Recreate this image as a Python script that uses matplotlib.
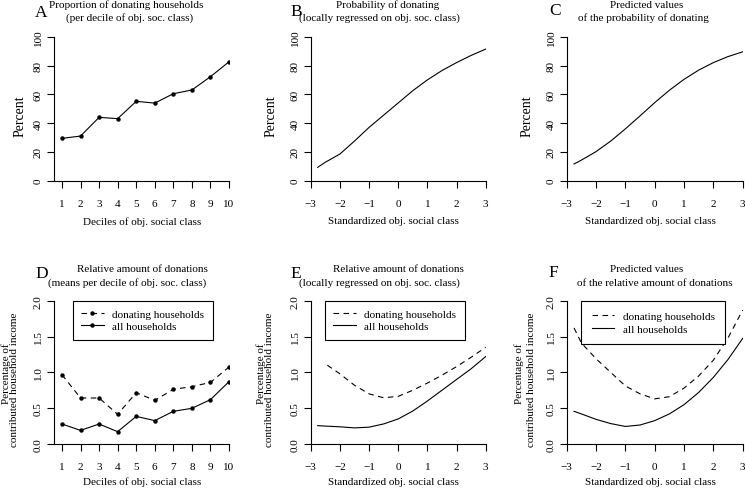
import matplotlib
matplotlib.use("Agg")
import matplotlib.pyplot as plt

plt.rcParams['font.family'] = ['Liberation Serif', 'DejaVu Serif']
plt.rcParams['axes.linewidth'] = 0.8

W, H = 745, 489

# data
deciles = [1, 2, 3, 4, 5, 6, 7, 8, 9, 10]
prop_donating = [29.4, 31.0, 44.0, 43.1, 55.1, 53.9, 60.4, 63.0, 72.2, 82.6]

x_prob_loess = [-2.76, -2.5, -2, -1.5, -1, -0.5, 0, 0.5, 1, 1.5, 2, 2.5, 3]
prob_loess = [9.3, 12.8, 18.5, 27.5, 37, 45.5, 54, 62.5, 70, 76.5, 82, 87, 91.4]

x_prob_pred = [-2.75, -2.5, -2, -1.5, -1, -0.5, 0, 0.5, 1, 1.5, 2, 2.5, 3]
prob_pred = [11.6, 14.3, 20.2, 27.5, 36, 45, 54.2, 62.8, 70.4, 76.8, 82, 86.2, 89.5]

amount_donating = [0.967, 0.642, 0.642, 0.414, 0.716, 0.609, 0.763, 0.80, 0.86, 1.074]
amount_all = [0.279, 0.19, 0.279, 0.172, 0.386, 0.326, 0.456, 0.498, 0.619, 0.87]

x_loess_don = [-2.43, -2, -1.5, -1, -0.5, 0, 0.5, 1, 1.5, 2, 2.5, 3]
loess_don = [1.10, 0.98, 0.82, 0.70, 0.645, 0.665, 0.75, 0.85, 0.96, 1.08, 1.21, 1.35]
x_loess_all = [-2.76, -2.5, -2, -1.5, -1, -0.5, 0, 0.5, 1, 1.5, 2, 2.5, 3]
loess_all = [0.256, 0.25, 0.24, 0.225, 0.235, 0.28, 0.35, 0.46, 0.6, 0.75, 0.9, 1.05, 1.22]

x_pred = [-2.75, -2.5, -2, -1.5, -1, -0.5, 0, 0.5, 1, 1.5, 2, 2.5, 3]
pred_don = [1.62, 1.41, 1.19, 1.0, 0.81, 0.70, 0.63, 0.66, 0.78, 0.95, 1.17, 1.48, 1.87]
pred_all = [0.456, 0.42, 0.344, 0.285, 0.245, 0.265, 0.326, 0.42, 0.549, 0.72, 0.93, 1.18, 1.474]

std_ticks = [-3, -2, -1, 0, 1, 2, 3]
std_ticklabels = ['\u22123', '\u22122', '\u22121', '0', '1', '2', '3']

FS = 8
LW = 0.8
DASH = (0, (5, 4))

fig = plt.figure(figsize=(W / 100, H / 100), dpi=100)


def add_ax(x0, x1, ytop, ybot):
    ax = fig.add_axes([x0 / W, 1 - ybot / H, (x1 - x0) / W, (ybot - ytop) / H])
    ax.spines['top'].set_visible(False)
    ax.spines['right'].set_visible(False)
    ax.tick_params(direction='out', length=5, width=LW, labelsize=FS, pad=8)
    ax.tick_params(axis='y', pad=3)
    return ax


def ftext(x, y, s, **kw):
    kw.setdefault('fontsize', FS)
    kw.setdefault('ha', 'center')
    kw.setdefault('va', 'center')
    fig.text(x / W, 1 - y / H, s, **kw)


def yticks(ax, ticks, labels):
    ax.set_yticks(ticks)
    ax.set_yticklabels(labels, rotation=90, va='center')


def legend(ax, x, y, pad=0.75):
    leg = ax.legend(loc='upper left', bbox_to_anchor=(x / W, 1 - y / H),
                    bbox_transform=fig.transFigure, borderaxespad=0,
                    fancybox=False, edgecolor='black', framealpha=1,
                    fontsize=FS, handlelength=2.0, handletextpad=0.8,
                    borderpad=pad, labelspacing=0.25)
    leg.get_frame().set_linewidth(LW)
    leg.set_zorder(5)


pct_ticks = [0, 20, 40, 60, 80, 100]
amt_ticks = [0.0, 0.5, 1.0, 1.5, 2.0]
amt_labels = ['0.0', '0.5', '1.0', '1.5', '2.0']

# A
ax = add_ax(54, 229, 37.7, 181.7)
ax.plot(deciles, prop_donating, color='black', lw=LW, marker='o', ms=2.2)
ax.set_xlim(0.57, 10)
ax.set_ylim(0, 100)
ax.set_xticks(deciles)
yticks(ax, pct_ticks, [str(t) for t in pct_ticks])

# B
ax = add_ax(310.7, 485.7, 37.7, 181.7)
ax.plot(x_prob_loess, prob_loess, color='black', lw=LW)
ax.set_xlim(-3, 3)
ax.set_ylim(0, 100)
ax.set_xticks(std_ticks)
ax.set_xticklabels(std_ticklabels)
yticks(ax, pct_ticks, [str(t) for t in pct_ticks])

# C
ax = add_ax(566.7, 742.7, 37.7, 181.7)
ax.plot(x_prob_pred, prob_pred, color='black', lw=LW)
ax.set_xlim(-3, 3)
ax.set_ylim(0, 100)
ax.set_xticks(std_ticks)
ax.set_xticklabels(std_ticklabels)
yticks(ax, pct_ticks, [str(t) for t in pct_ticks])

# D
ax = add_ax(54, 229, 301.7, 445)
ax.plot(deciles, amount_donating, color='black', lw=LW, ls=DASH, marker='o', ms=2.2,
        label='donating households')
ax.plot(deciles, amount_all, color='black', lw=LW, marker='o', ms=2.2,
        label='all households')
ax.set_xlim(0.57, 10)
ax.set_ylim(0, 2)
ax.set_xticks(deciles)
yticks(ax, amt_ticks, amt_labels)
legend(ax, 73, 301.7)

# E
ax = add_ax(310.7, 485.7, 301.7, 445)
ax.plot(x_loess_don, loess_don, color='black', lw=LW, ls=DASH, label='donating households')
ax.plot(x_loess_all, loess_all, color='black', lw=LW, label='all households')
ax.set_xlim(-3, 3)
ax.set_ylim(0, 2)
ax.set_xticks(std_ticks)
ax.set_xticklabels(std_ticklabels)
yticks(ax, amt_ticks, amt_labels)
legend(ax, 325, 301.7)

# F
ax = add_ax(566.7, 742.7, 301.7, 445)
ax.plot(x_pred, pred_don, color='black', lw=LW, ls=DASH, label='donating households')
ax.plot(x_pred, pred_all, color='black', lw=LW, label='all households')
ax.set_xlim(-3, 3)
ax.set_ylim(0, 2)
ax.set_xticks(std_ticks)
ax.set_xticklabels(std_ticklabels)
yticks(ax, amt_ticks, amt_labels)
legend(ax, 581, 301.7, pad=0.95)

# panel letters
for letter, x, y in [('A', 35, 17), ('B', 290, 16), ('C', 549, 15),
                     ('D', 35, 278), ('E', 290, 278), ('F', 548, 277)]:
    ftext(x, y, letter, fontsize=12.5, ha='left', va='baseline')

# titles
titles = [
    ('Proportion of donating households', 126, 7.5),
    ('(per decile of obj. soc. class)', 130, 20.7),
    ('Probability of donating', 388, 7.5),
    ('(locally regressed on obj. soc. class)', 379, 20.7),
    ('Predicted values', 647, 7.5),
    ('of the probability of donating', 643, 20.7),
    ('Relative amount of donations', 142, 272.5),
    ('(means per decile of obj. soc. class)', 127, 286),
    ('Relative amount of donations', 398, 272.5),
    ('(locally regressed on obj. soc. class)', 379, 286),
    ('Predicted values', 647, 272.5),
    ('of the relative amount of donations', 655, 286),
]
for s, x, y in titles:
    ftext(x, y, s, va='baseline')

# x labels
ftext(142, 222, 'Deciles of obj. social class')
ftext(393.5, 222, 'Standardized obj. social class')
ftext(650, 222, 'Standardized obj. social class')
ftext(142, 482.5, 'Deciles of obj. social class')
ftext(393.5, 482.5, 'Standardized obj. social class')
ftext(650, 482.5, 'Standardized obj. social class')

# y labels
ftext(20, 116, 'Percent', rotation=90, fontsize=10)
ftext(271, 116, 'Percent', rotation=90, fontsize=10)
ftext(527.5, 116, 'Percent', rotation=90, fontsize=10)
for x0 in [6, 261, 519]:
    ftext(x0, 374, 'Percentage of', rotation=90)
for x0 in [15, 270, 532]:
    ftext(x0, 380, 'contributed household income', rotation=90)

fig.savefig('out.png', dpi=100)
